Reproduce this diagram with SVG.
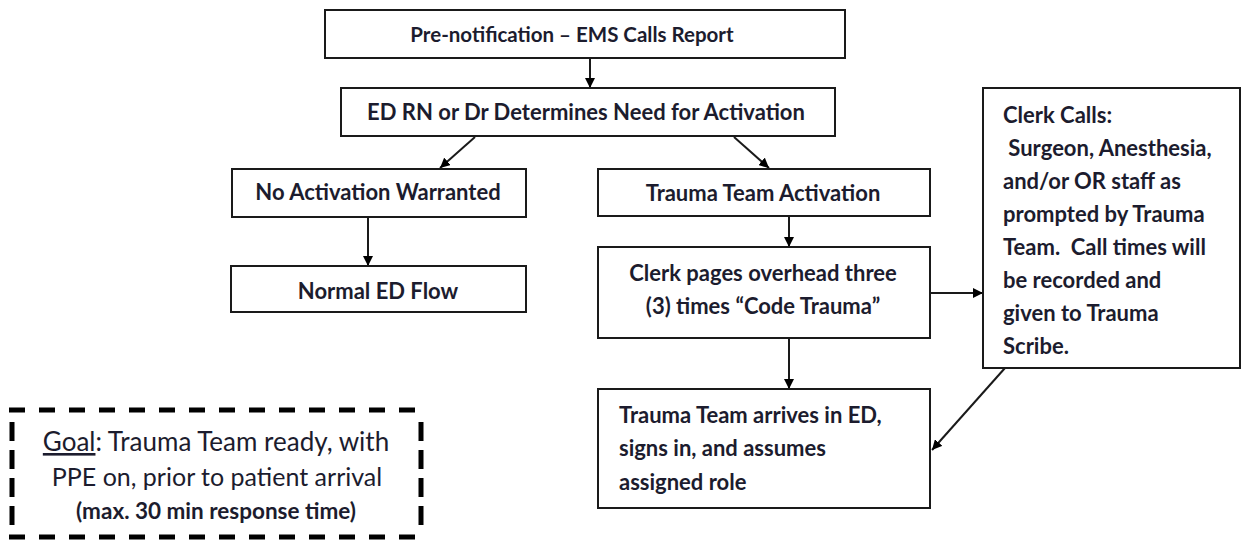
<svg xmlns="http://www.w3.org/2000/svg" width="1243" height="541" viewBox="0 0 1243 541">
<style>
.box{fill:#fff;stroke:#1a1a1a;stroke-width:2}
.t{font-family:Lato,"Liberation Sans",sans-serif;font-weight:bold;font-size:22px;fill:#1c1c2e}
.c{text-anchor:middle}
.con{stroke:#1a1a1a;stroke-width:2;fill:none}
.dash{stroke:#000;stroke-width:5;fill:none}
</style>
<defs>
<marker id="ah" viewBox="0 0 10 10" refX="10" refY="5" markerWidth="5" markerHeight="5" orient="auto" markerUnits="strokeWidth">
<path d="M0,0 L10,5 L0,10 z" fill="#000"/>
</marker>
</defs>
<rect width="1243" height="541" fill="#fff"/>
<g id="connectors">
<line class="con" x1="590" y1="58" x2="590" y2="88" marker-end="url(#ah)"/>
<line class="con" x1="475" y1="137" x2="440" y2="168" marker-end="url(#ah)"/>
<line class="con" x1="734" y1="137" x2="769" y2="168" marker-end="url(#ah)"/>
<line class="con" x1="368" y1="217" x2="368" y2="266" marker-end="url(#ah)"/>
<line class="con" x1="789" y1="216" x2="789" y2="247" marker-end="url(#ah)"/>
<line class="con" x1="930" y1="293" x2="983" y2="293" marker-end="url(#ah)"/>
<line class="con" x1="789" y1="338" x2="789" y2="389" marker-end="url(#ah)"/>
<line class="con" x1="1005" y1="368" x2="932" y2="450" marker-end="url(#ah)"/>
</g>
<g id="pre">
<rect class="box" x="325" y="10" width="520" height="48"/>
<text class="t c" x="572" y="42" style="font-size:20.5px">Pre-notification – EMS Calls Report</text>
</g>
<g id="determine">
<rect class="box" x="341" y="88" width="494" height="48"/>
<text class="t c" x="586" y="120">ED RN or Dr Determines Need for Activation</text>
</g>
<g id="noact">
<rect class="box" x="232" y="169" width="294" height="48"/>
<text class="t c" x="378" y="200">No Activation Warranted</text>
</g>
<g id="normal">
<rect class="box" x="231" y="266" width="295" height="46"/>
<text class="t c" x="378" y="299">Normal ED Flow</text>
</g>
<g id="activation">
<rect class="box" x="598" y="169" width="332" height="47"/>
<text class="t c" x="763" y="201">Trauma Team Activation</text>
</g>
<g id="pages">
<rect class="box" x="598" y="247" width="332" height="91"/>
<text class="t c" x="763" y="281">Clerk pages overhead three</text>
<text class="t c" x="763" y="314">(3) times “Code Trauma”</text>
</g>
<g id="arrives">
<rect class="box" x="598" y="389" width="332" height="119"/>
<text class="t" x="619" y="423">Trauma Team arrives in ED,</text>
<text class="t" x="619" y="456">signs in, and assumes</text>
<text class="t" x="619" y="490">assigned role</text>
</g>
<g id="clerkcalls">
<rect class="box" x="983" y="88" width="257" height="280"/>
<text class="t" x="1003" y="123" xml:space="preserve">Clerk Calls:</text>
<text class="t" x="1003" y="156" xml:space="preserve"> Surgeon, Anesthesia,</text>
<text class="t" x="1003" y="189" xml:space="preserve">and/or OR staff as</text>
<text class="t" x="1003" y="222" xml:space="preserve">prompted by Trauma</text>
<text class="t" x="1003" y="255" xml:space="preserve">Team.  Call times will</text>
<text class="t" x="1003" y="288" xml:space="preserve">be recorded and</text>
<text class="t" x="1003" y="321" xml:space="preserve">given to Trauma</text>
<text class="t" x="1003" y="354" xml:space="preserve">Scribe.</text>
</g>
<g id="goal">
<line class="dash" x1="9" y1="410" x2="422" y2="410" stroke-dasharray="16 14"/>
<line class="dash" x1="9" y1="537" x2="422" y2="537" stroke-dasharray="16 14"/>
<line class="dash" x1="12" y1="422" x2="12" y2="530" stroke-dasharray="19 9"/>
<line class="dash" x1="421" y1="422" x2="421" y2="530" stroke-dasharray="19 9"/>
<text class="t c" x="216" y="451" style="font-weight:normal;font-size:26px"><tspan text-decoration="underline">Goal</tspan>: Trauma Team ready, with</text>
<text class="t c" x="217" y="486" style="font-weight:normal;font-size:25px">PPE on, prior to patient arrival</text>
<text class="t c" x="216" y="519" style="font-size:22.5px">(max. 30 min response time)</text>
</g>
</svg>
